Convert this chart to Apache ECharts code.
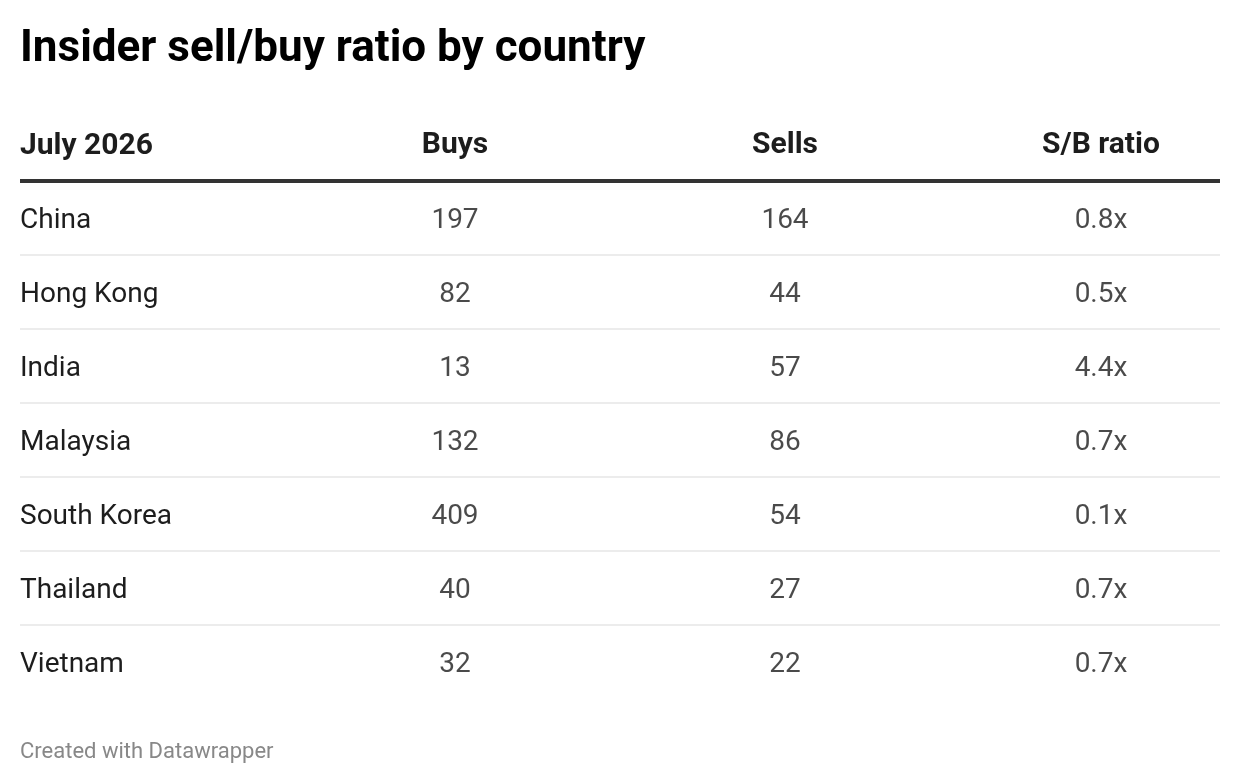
<!DOCTYPE html>
<html>
<head>
<meta charset="utf-8">
<script src="https://cdn.jsdelivr.net/npm/echarts@6/dist/echarts.min.js"></script>
<style>
html,body{margin:0;padding:0;background:#fff;}
#chart{width:1240px;height:784px;}
</style>
</head>
<body>
<div id="chart"></div>
<script>
const titleText = 'Insider sell/buy ratio by country';
const firstHeader = 'July 2026';
const countries = ['China','Hong Kong','India','Malaysia','South Korea','Thailand','Vietnam'];
const columnHeaders = ['Buys','Sells','S/B ratio'];
const buys = [197, 82, 13, 132, 409, 40, 32];
const sells = [164, 44, 57, 86, 54, 27, 22];
const ratios = [0.8, 0.5, 4.4, 0.7, 0.1, 0.7, 0.7];
const footer = 'Created with Datawrapper';

const FONT = 'Roboto';
const TOP = 181, ROW_H = 74, TEXT_SHIFT = 3;
const gridHeight = countries.length * ROW_H;
const colCenters = [455, 785, 1101];
const colWidth = 200;
const TEXT = '#1d1d1d';

const grids = [
  {left: 20, right: 20, top: TOP, height: gridHeight},
  {left: 20, right: 20, top: TOP + TEXT_SHIFT, height: gridHeight}
];
const xAxes = [
  {
    gridIndex: 0, type: 'category', position: 'top', data: [''],
    axisLine: {show: true, lineStyle: {color: '#333333', width: 4, cap: 'butt'}},
    axisTick: {show: false}, axisLabel: {show: false}
  },
  {gridIndex: 1, type: 'category', data: [''], show: false}
];
const yAxes = [
  {
    gridIndex: 0, type: 'category', inverse: true, data: countries,
    axisLine: {show: false}, axisTick: {show: false}, axisLabel: {show: false},
    splitLine: {show: true, showMinLine: false, showMaxLine: false, lineStyle: {color: '#ececec', width: 2}}
  },
  {
    gridIndex: 1, type: 'category', inverse: true, data: countries,
    axisLine: {show: false}, axisTick: {show: false}, splitLine: {show: false},
    axisLabel: {inside: true, margin: 0, color: TEXT, fontFamily: FONT, fontSize: 28, align: 'left'}
  }
];
const series = [];
const colData = [buys, sells, ratios.map(v => v.toFixed(1) + 'x')];

columnHeaders.forEach((h, i) => {
  const gi = i + 2;
  grids.push({left: colCenters[i] - colWidth / 2, width: colWidth, top: TOP, height: gridHeight});
  xAxes.push({
    gridIndex: gi, type: 'category', position: 'top', data: [h],
    axisLine: {show: false}, axisTick: {show: false},
    axisLabel: {color: TEXT, fontFamily: FONT, fontSize: 30, fontWeight: 'bold', margin: 21}
  });
  yAxes.push({
    gridIndex: gi, type: 'category', inverse: true, data: countries, show: false
  });
  series.push({
    type: 'scatter', xAxisIndex: gi, yAxisIndex: gi,
    symbolSize: 1, itemStyle: {color: 'rgba(0,0,0,0)'},
    silent: true,
    data: countries.map((c, r) => [h, c, colData[i][r]]),
    label: {
      show: true, position: 'inside', offset: [0, TEXT_SHIFT], color: TEXT, fontFamily: FONT, fontSize: 28,
      formatter: p => String(p.value[2])
    }
  });
});

const chart = echarts.init(document.getElementById('chart'), null, {renderer: 'canvas'});
chart.setOption({
  backgroundColor: '#ffffff',
  animation: false,
  title: [
    {text: titleText, left: 20, top: 28, padding: 0, textStyle: {fontFamily: FONT, fontSize: 44, fontWeight: 'bold', color: '#000000'}},
    {text: firstHeader, left: 20, top: 131, padding: 0, textStyle: {fontFamily: FONT, fontSize: 30, fontWeight: 'bold', color: TEXT}},
    {text: footer, left: 20, top: 741, padding: 0, textStyle: {fontFamily: FONT, fontSize: 22, fontWeight: 'normal', color: '#888888'}}
  ],
  grid: grids,
  xAxis: xAxes,
  yAxis: yAxes,
  series: series
});
</script>
</body>
</html>
